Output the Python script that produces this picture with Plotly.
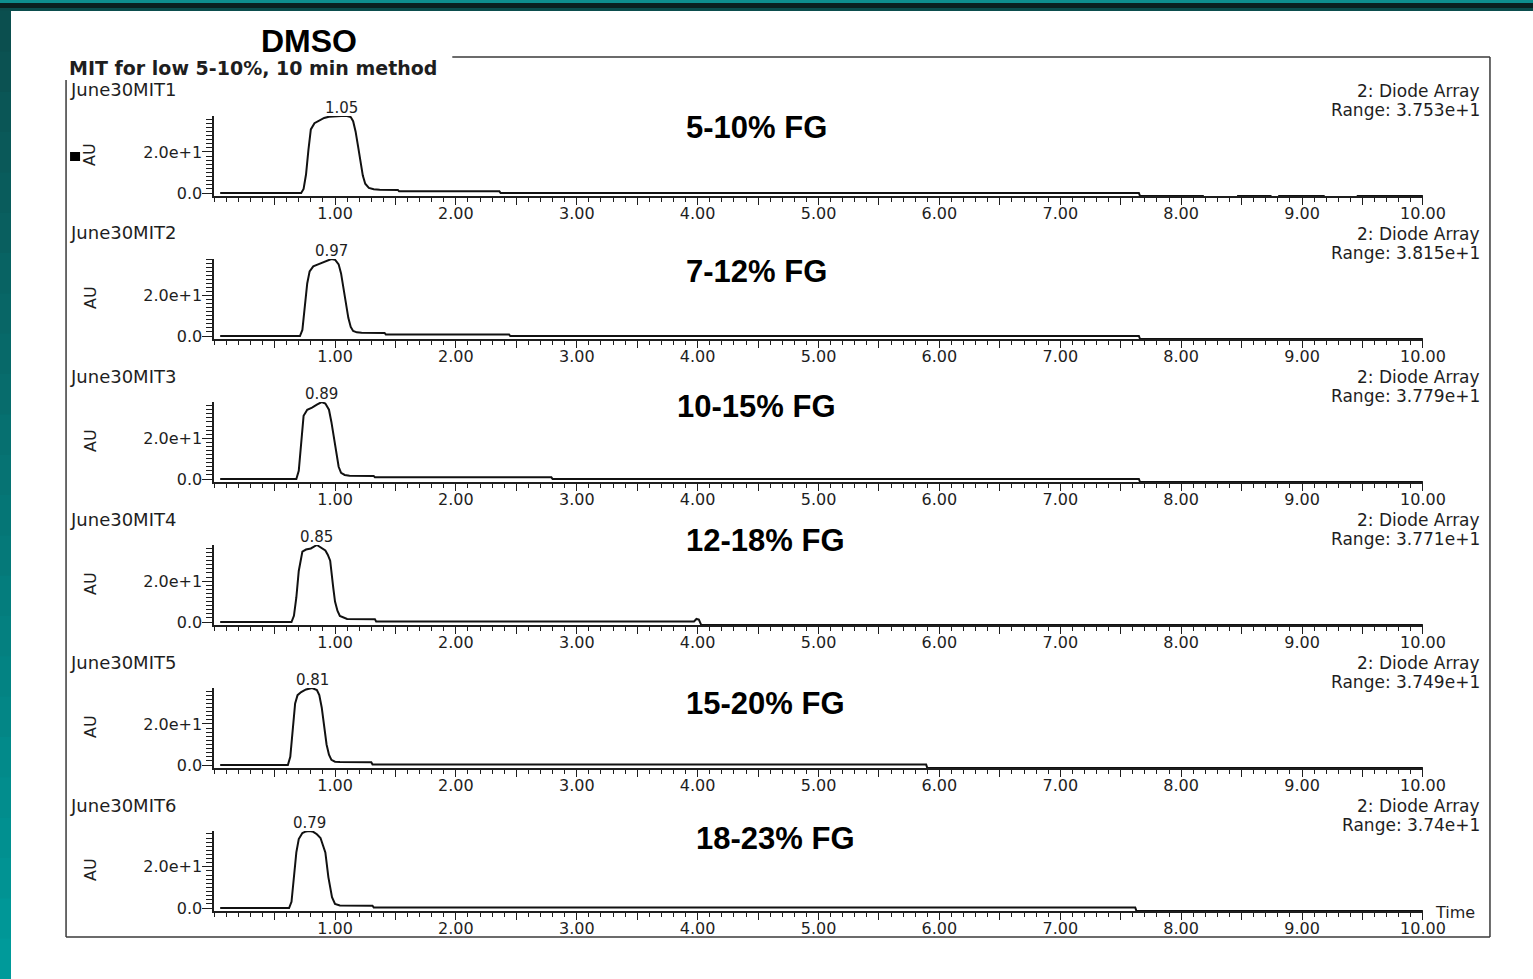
import plotly.graph_objects as go

W, H = 1533, 979
FIG_W, FIG_H = 1557, 985

# ---------------- data ----------------
run_names = ["June30MIT1", "June30MIT2", "June30MIT3", "June30MIT4", "June30MIT5", "June30MIT6"]
fg_labels = ["5-10% FG", "7-12% FG", "10-15% FG", "12-18% FG", "15-20% FG", "18-23% FG"]
peak_times = [1.05, 0.97, 0.89, 0.85, 0.81, 0.79]
peak_texts = ["1.05", "0.97", "0.89", "0.85", "0.81", "0.79"]
range_vals = [37.53, 38.15, 37.79, 37.71, 37.49, 37.40]
range_texts = ["Range: 3.753e+1", "Range: 3.815e+1", "Range: 3.779e+1",
               "Range: 3.771e+1", "Range: 3.749e+1", "Range: 3.74e+1"]
x_tick_vals = [0.5, 1.0, 1.5, 2.0, 2.5, 3.0, 3.5, 4.0, 4.5, 5.0,
               5.5, 6.0, 6.5, 7.0, 7.5, 8.0, 8.5, 9.0, 9.5, 10.0]
x_tick_text = ["", "1.00", "", "2.00", "", "3.00", "", "4.00", "", "5.00",
               "", "6.00", "", "7.00", "", "8.00", "", "9.00", "", "10.00"]
y_tick_vals = [0, 20]
y_tick_text = ["0.0", "2.0e+1"]

t1 = [0.05, 0.72, 0.74, 0.76, 0.78, 0.80, 0.83, 0.87, 0.91, 0.95, 1.00, 1.05, 1.10, 1.13, 1.15,
      1.17, 1.19, 1.21, 1.23, 1.25, 1.28, 1.32, 1.37, 1.52, 1.53, 2.36, 2.37, 7.65, 7.66, 8.18,
      8.19, 8.46, 8.47, 8.74, 8.75, 8.80, 8.81, 9.18, 9.19, 9.45, 9.46, 10.0]
v1 = [0, 0, 2, 9, 21, 31, 34, 35.5, 36.6, 37.2, 37.5, 37.53, 37.5, 37.0, 35.0,
      30.0, 23.0, 15.0, 8.5, 4.5, 2.5, 1.8, 1.6, 1.5, 0.8, 0.8, 0, 0, -1.5, -1.5,
      -4, -4, -1.5, -1.5, -4, -4, -1.5, -1.5, -4, -4, -1.5, -1.5]

t2 = [0.05, 0.71, 0.73, 0.75, 0.77, 0.79, 0.82, 0.86, 0.90, 0.94, 0.97, 1.00, 1.03, 1.05,
      1.07, 1.09, 1.11, 1.13, 1.15, 1.18, 1.22, 1.41, 1.42, 2.44, 2.45, 7.65, 7.66, 10.0]
v2 = [0, 0, 3, 13, 26, 32, 34.5, 35.5, 36.5, 37.6, 38.15, 37.8, 35.5, 31,
      24, 16, 9, 4.5, 2.5, 1.8, 1.6, 1.5, 0.8, 0.8, 0, 0, -1.5, -1.5]

t3 = [0.05, 0.68, 0.70, 0.72, 0.74, 0.77, 0.81, 0.85, 0.89, 0.92, 0.95, 0.97, 0.99, 1.01,
      1.03, 1.05, 1.08, 1.12, 1.32, 1.33, 2.79, 2.80, 7.65, 7.66, 10.0]
v3 = [0, 0, 4, 18, 31, 34, 35, 36.5, 37.79, 37, 34, 28, 20, 12,
      6, 3, 2, 1.6, 1.5, 0.8, 0.8, 0, 0, -1.5, -1.5]

t4 = [0.05, 0.64, 0.66, 0.68, 0.70, 0.73, 0.76, 0.80, 0.85, 0.90, 0.92, 0.94, 0.96, 0.985,
      1.00, 1.02, 1.04, 1.10, 1.33, 1.34, 3.97, 3.99, 4.01, 4.03, 10.0]
v4 = [0, 0, 3, 12, 25, 34.5, 35.5, 36, 37.71, 36, 35, 33, 30, 17,
      10, 5.5, 3, 1.5, 1.4, 0.3, 0.3, 1.5, 1.2, -1.5, -1.5]

t5 = [0.05, 0.61, 0.63, 0.65, 0.67, 0.69, 0.72, 0.76, 0.81, 0.85, 0.87, 0.89, 0.91, 0.93,
      0.95, 0.97, 1.00, 1.04, 1.30, 1.31, 5.89, 5.90, 10.0]
v5 = [0, 0, 4, 17, 30, 34, 35.5, 36.8, 37.49, 36.5, 34, 28, 19, 10,
      5, 2.5, 1.6, 1.4, 1.3, 0.3, 0.3, -1.5, -1.5]

t6 = [0.05, 0.62, 0.64, 0.66, 0.68, 0.70, 0.73, 0.76, 0.79, 0.82, 0.85, 0.88, 0.90, 0.92,
      0.945, 0.96, 0.975, 1.00, 1.04, 1.31, 1.32, 7.62, 7.63, 10.0]
v6 = [0, 0, 3, 14, 27, 33.5, 36.4, 37.2, 37.4, 37.0, 35.8, 34, 31, 27,
      15, 9, 5.3, 2.0, 1.2, 1.1, 0.3, 0.3, -1.5, -1.5]

times = [t1, t2, t3, t4, t5, t6]
values = [v1, v2, v3, v4, v5, v6]

# ---------------- layout helpers ----------------
def px(x):
    return x / W


def py(y):
    return 1 - y / H


SMALL = "DejaVu Sans"
ARIAL = "Liberation Sans"
INK = "#1e1e1e"

x_left, x_right = 214, 1422
zero_rows = [193, 336, 479, 622, 765, 908]
axis_h = 77
y_min = -1.6

fig = go.Figure()
layout = dict(
    width=FIG_W, height=FIG_H, autosize=False,
    margin=dict(l=0, r=0, t=0, b=0, pad=0),
    paper_bgcolor="white", plot_bgcolor="white",
    showlegend=False, hovermode=False,
)
annotations = []
shapes = []

for i in range(6):
    n = "" if i == 0 else str(i + 1)
    R = range_vals[i]
    y0 = zero_rows[i]
    bottom = y0 + (-y_min) * axis_h / R
    top = y0 - axis_h
    fig.add_trace(go.Scatter(
        x=times[i], y=values[i], mode="lines",
        line=dict(color="#111111", width=2),
        xaxis="x" + n, yaxis="y" + n,
    ))
    layout["xaxis" + n] = dict(
        domain=[px(x_left), px(x_right)], anchor="y" + n, range=[0, 10],
        showline=True, linecolor=INK, linewidth=1.5, mirror=False,
        showgrid=False, zeroline=False,
        tickmode="array", tickvals=x_tick_vals, ticktext=x_tick_text,
        ticks="outside", ticklen=7, tickwidth=1.3, tickcolor=INK,
        ticklabelstandoff=-5,
        minor=dict(tickmode="linear", tick0=0, dtick=0.1, ticks="outside",
                   ticklen=4, tickwidth=1.2, tickcolor=INK, showgrid=False),
        tickfont=dict(family=SMALL, size=16, color=INK),
        fixedrange=True,
    )
    layout["yaxis" + n] = dict(
        domain=[py(bottom), py(top)], anchor="x" + n, range=[y_min, R],
        showline=True, linecolor=INK, linewidth=1.5,
        showgrid=False, zeroline=False,
        tickmode="array", tickvals=y_tick_vals, ticktext=y_tick_text,
        ticks="outside", ticklen=10, tickwidth=1.3, tickcolor=INK,
        ticklabelstandoff=-3,
        minor=dict(tickmode="linear", tick0=0, dtick=2, ticks="outside",
                   ticklen=6, tickwidth=1.2, tickcolor=INK, showgrid=False),
        tickfont=dict(family=SMALL, size=16, color=INK),
        fixedrange=True,
    )
    annotations.append(dict(
        x=px(68), y=py(90 + 143 * i), xref="paper", yref="paper",
        text=run_names[i], showarrow=False, xanchor="left", yanchor="middle",
        font=dict(family=SMALL, size=18, color=INK)))
    annotations.append(dict(
        x=px(1481), y=py(91 + 143 * i), xref="paper", yref="paper",
        text="2: Diode Array", showarrow=False, xanchor="right", yanchor="middle",
        font=dict(family=SMALL, size=17, color=INK)))
    annotations.append(dict(
        x=px(1481), y=py(110 + 143 * i), xref="paper", yref="paper",
        text=range_texts[i], showarrow=False, xanchor="right", yanchor="middle",
        font=dict(family=SMALL, size=17, color=INK)))
    annotations.append(dict(
        x=px(90), y=py(y0 - 38), xref="paper", yref="paper",
        text="AU", showarrow=False, textangle=-90, xanchor="center", yanchor="middle",
        font=dict(family=SMALL, size=16, color=INK)))
    annotations.append(dict(
        x=peak_times[i], y=R, xref="x" + n, yref="y" + n,
        text=peak_texts[i], showarrow=False, xanchor="center", yanchor="bottom",
        yshift=-3, font=dict(family=SMALL, size=15, color=INK)))

fg_pos = [(756, 127), (756, 271), (756, 406), (765, 540), (765, 703), (775, 838)]
for (cx, cy), lab in zip(fg_pos, fg_labels):
    annotations.append(dict(
        x=px(cx), y=py(cy), xref="paper", yref="paper", text="<b>%s</b>" % lab,
        showarrow=False, xanchor="center", yanchor="middle",
        font=dict(family=ARIAL, size=31, color="black")))

annotations.append(dict(
    x=px(309), y=py(41), xref="paper", yref="paper", text="<b>DMSO</b>",
    showarrow=False, xanchor="center", yanchor="middle",
    font=dict(family=ARIAL, size=32, color="black")))
annotations.append(dict(
    x=px(67), y=py(68), xref="paper", yref="paper",
    text="<b>MIT for low 5-10%, 10 min method</b>",
    showarrow=False, xanchor="left", yanchor="middle",
    font=dict(family=SMALL, size=19, color=INK)))
annotations.append(dict(
    x=px(1432), y=py(912), xref="paper", yref="paper", text="Time",
    showarrow=False, xanchor="left", yanchor="middle",
    font=dict(family=SMALL, size=16, color=INK)))

# ---------------- decorations: slide frame ----------------
def rect(x0, y0, x1, y1, color):
    shapes.append(dict(type="rect", xref="paper", yref="paper",
                       x0=px(x0), x1=px(x1), y0=py(y1), y1=py(y0),
                       fillcolor=color, line=dict(width=0), layer="below"))


def hexmix(c1, c2, f):
    a = [int(c1[k:k + 2], 16) for k in (1, 3, 5)]
    b = [int(c2[k:k + 2], 16) for k in (1, 3, 5)]
    return "#" + "".join("%02x" % round(a[j] + (b[j] - a[j]) * f) for j in range(3))


rect(0, 0, W, 3, "#0e8f8f")
rect(0, 3, W, 8, "#0a2121")
rect(0, 8, W, 11, "#0b4d4d")
steps = 24
for k in range(steps):
    ya = 11 + (H - 11) * k / steps
    yb = 11 + (H - 11) * (k + 1) / steps + 1
    f = k / (steps - 1)
    col = hexmix("#0b4f4f", "#009a9a", f)
    rect(0, ya, 11, yb, col)


def line(x0, y0, x1, y1, color="#3a3a3a", width=1.5):
    shapes.append(dict(type="line", xref="paper", yref="paper",
                       x0=px(x0), x1=px(x1), y0=py(y0), y1=py(y1),
                       line=dict(color=color, width=width)))


line(66, 80, 66, 937)
line(66, 937, 1489, 937)
line(1489, 57, 1489, 937)
line(452, 57, 1489, 57)
shapes.append(dict(type="rect", xref="paper", yref="paper",
                   x0=px(70), x1=px(80), y0=py(161), y1=py(152),
                   fillcolor="black", line=dict(width=0)))

layout["annotations"] = annotations
layout["shapes"] = shapes
fig.update_layout(**layout)

fig.write_html("out.html", config={"displayModeBar": False},
               post_script="document.body.style.margin='0';")
